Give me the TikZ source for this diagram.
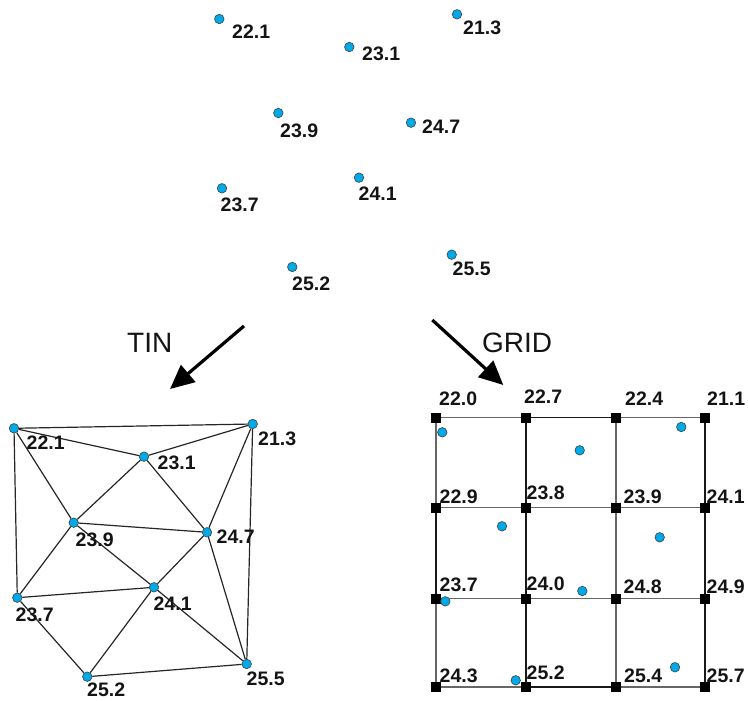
\documentclass[tikz,border=0pt]{standalone}
\usepackage{fontspec}
\setmainfont{Liberation Sans}
\usetikzlibrary{arrows.meta}
\definecolor{dotblue}{RGB}{0,170,232}
\tikzset{
  pt/.style={circle,draw=black!75,line width=0.6pt,fill=dotblue,minimum size=9.5pt,inner sep=0pt},
  val/.style={anchor=west,inner sep=0pt,font=\fontsize{19.5}{19.5}\selectfont\bfseries,text=black!92},
  gp/.style={rectangle,fill=black,minimum size=10pt,inner sep=0pt},
  tin/.style={line width=1.2pt,black!85},
  gl/.style={line width=1.2pt,black!60},
  glb/.style={line width=1.5pt,black!90},
  bigarrow/.style={line width=3.2pt,-{Triangle[length=24pt,width=22pt]}},
  title/.style={inner sep=0pt,font=\fontsize{28}{28}\selectfont,text=black!92}
}
\begin{document}
\begin{tikzpicture}[x=1pt,y=-1pt]
\useasboundingbox (0,0) rectangle (748,701);
% ---------- top scattered points ----------
\node[pt] (a1) at (219.3,19) {};   \node[val] (la1) at (232,32) {22.1};
\node[pt] (a2) at (349.3,47) {};   \node[val] (la2) at (362,54) {23.1};
\node[pt] (a3) at (457,14.3) {};   \node[val] (la3) at (463,28) {21.3};
\node[pt] (a4) at (278.3,113) {};  \node[val] (la4) at (280,131) {23.9};
\node[pt] (a5) at (411,122.7) {};  \node[val] (la5) at (422,127) {24.7};
\node[pt] (a6) at (222,188.3) {};  \node[val] (la6) at (220.5,205) {23.7};
\node[pt] (a7) at (359,177.7) {};  \node[val] (la7) at (358.5,194) {24.1};
\node[pt] (a8) at (292.3,267) {};  \node[val] (la8) at (292,284) {25.2};
\node[pt] (a9) at (451.7,254.7) {};\node[val] (la9) at (452.5,269) {25.5};
% ---------- arrows and titles ----------
\coordinate (tinS) at (244,326);
\coordinate (tinE) at (170,389);
\coordinate (gridS) at (432.3,320);
\coordinate (gridE) at (503.3,385);
\draw[bigarrow] (tinS) -- (tinE);
\draw[bigarrow] (gridS) -- (gridE);
\node[title,anchor=west] (ttin) at (127,343) {TIN};
\node[title,anchor=west] (tgrid) at (482,343) {GRID};
% ---------- TIN ----------
\node[pt] (t1) at (14,428.3) {};
\node[pt] (t2) at (252.7,424) {};
\node[pt] (t3) at (144,456.7) {};
\node[pt] (t4) at (73.7,522.7) {};
\node[pt] (t5) at (207,532.3) {};
\node[pt] (t6) at (154,587.3) {};
\node[pt] (t7) at (17.3,597.7) {};
\node[pt] (t8) at (87.3,676.7) {};
\node[pt] (t9) at (246.7,664) {};
\foreach \u/\v in {t1/t2,t1/t3,t3/t2,t1/t7,t1/t4,t3/t4,t3/t5,t2/t5,t2/t9,t4/t5,t4/t7,t4/t6,t5/t6,t5/t9,t7/t6,t7/t8,t6/t8,t6/t9,t8/t9}
  \draw[tin] (\u) -- (\v);
\node[val] (lt1) at (26.5,443) {22.1};
\node[val] (lt2) at (258,439) {21.3};
\node[val] (lt3) at (157.5,463) {23.1};
\node[val] (lt4) at (75.5,540) {23.9};
\node[val] (lt5) at (216.5,537) {24.7};
\node[val] (lt6) at (153.5,604) {24.1};
\node[val] (lt7) at (15.5,615) {23.7};
\node[val] (lt8) at (87,690) {25.2};
\node[val] (lt9) at (246.5,679) {25.5};
% ---------- GRID ----------
\foreach \c/\x in {1/436,2/526,3/616,4/705}
  \foreach \r/\y in {1/417.5,2/507.5,3/598.5,4/687}
    \coordinate (c\c\r) at (\x,\y);
% lines
\draw[gl] (c11) -- (c21);
\draw[glb] (c21) -- (c31);
\draw[gl] (c31) -- (c41);
\foreach \r in {2,3}{
  \draw[gl] (c1\r) -- (c2\r) -- (c3\r) -- (c4\r);
}
\draw[gl] (c14) -- (c24);
\draw[glb] (c24) -- (c34);
\draw[gl] (c34) -- (c44);
\draw[gl] (c11) -- (c12);
\draw[glb] (c12) -- (c13);
\draw[gl] (c13) -- (c14);
\draw[glb] (c21) -- (c22) -- (c23) -- (c24);
\draw[gl] (c31) -- (c32) -- (c33) -- (c34);
\draw[glb] (c41) -- (c42) -- (c43) -- (c44);
% grid nodes
\foreach \c in {1,2,3,4}
  \foreach \r in {1,2,3,4}
    \node[gp] (g\c\r) at (c\c\r) {};
% sample points in the grid
\node[pt] (s1) at (442.3,432.3) {};
\node[pt] (s2) at (579.7,450.3) {};
\node[pt] (s3) at (681.3,427) {};
\node[pt] (s4) at (502,526.3) {};
\node[pt] (s5) at (659.7,537.3) {};
\node[pt] (s6) at (445.3,601.3) {};
\node[pt] (s7) at (582.3,591) {};
\node[pt] (s8) at (515.7,680.3) {};
\node[pt] (s9) at (675,667.3) {};
% grid values
\node[val] (v11) at (439,399) {22.0};
\node[val] (v21) at (524,397) {22.7};
\node[val] (v31) at (625,399) {22.4};
\node[val] (v41) at (707,399) {21.1};
\node[val] (v12) at (439.5,497) {22.9};
\node[val] (v22) at (526.5,493) {23.8};
\node[val] (v32) at (623.5,497) {23.9};
\node[val] (v42) at (706.5,497) {24.1};
\node[val] (v13) at (439.5,585) {23.7};
\node[val] (v23) at (526.5,584) {24.0};
\node[val] (v33) at (623.5,587) {24.8};
\node[val] (v43) at (706.5,587) {24.9};
\node[val] (v14) at (439.5,676) {24.3};
\node[val] (v24) at (526.5,673) {25.2};
\node[val] (v34) at (624,676) {25.4};
\node[val] (v44) at (706.5,676) {25.7};
\end{tikzpicture}
\end{document}
